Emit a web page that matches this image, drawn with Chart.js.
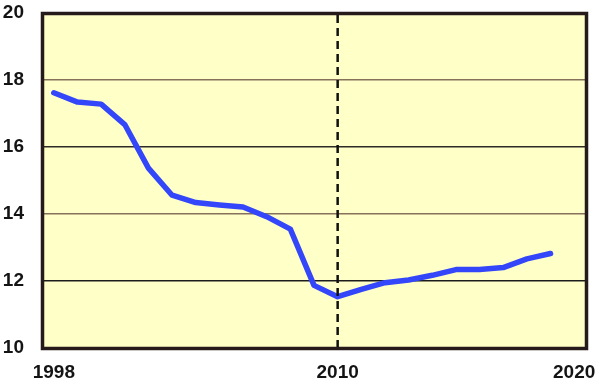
<!DOCTYPE html>
<html>
<head>
<meta charset="utf-8">
<script src="https://cdn.jsdelivr.net/npm/chart.js@4/dist/chart.umd.min.js"></script>
<style>
html,body{margin:0;padding:0;background:#fff;}
canvas{display:block;}
</style>
</head>
<body>
<canvas id="c" width="600" height="382"></canvas>
<script>
const years = [1998,1999,2000,2001,2002,2003,2004,2005,2006,2007,2008,2009,2010,2011,2012,2013,2014,2015,2016,2017,2018,2019];
const values = [17.62,17.34,17.28,16.67,15.37,14.56,14.34,14.27,14.21,13.92,13.55,11.87,11.53,11.75,11.95,12.03,12.17,12.34,12.34,12.40,12.66,12.82];
const xTickLabels = [1998, 2010, 2020];
const yTicks = [10, 12, 14, 16, 18, 20];
const markerYear = [2010];

const gridColors = {18:'#86715a', 16:'#2e2a26', 14:'#86715a', 12:'#1c1c1c'};

const framePlugin = {
  id: 'frame',
  beforeDraw(chart) {
    const {ctx, chartArea:a} = chart;
    ctx.save();
    ctx.fillStyle = '#FFFFC8';
    ctx.fillRect(a.left, a.top, a.right - a.left, a.bottom - a.top);
    ctx.restore();
  },
  afterDraw(chart) {
    const {ctx, chartArea:a} = chart;
    ctx.save();
    ctx.strokeStyle = '#261a1a';
    ctx.lineWidth = 3.5;
    ctx.strokeRect(a.left + 0.5, a.top + 0.5, a.right - a.left, a.bottom - a.top);
    ctx.restore();
  }
};

new Chart(document.getElementById('c'), {
  type: 'line',
  data: {
    datasets: [
      {
        data: markerYear.flatMap(y => [{x:y, y:yTicks[0]}, {x:y, y:yTicks[yTicks.length-1]}]),
        borderColor: '#111111',
        borderWidth: 2.5,
        borderDash: [8, 5],
        pointRadius: 0,
        order: 0
      },
      {
        data: years.map((y, i) => ({x: y, y: values[i]})),
        borderColor: '#3446FA',
        borderWidth: 5.5,
        pointRadius: 0,
        tension: 0,
        borderJoinStyle: 'round',
        borderCapStyle: 'round',
        order: 1
      }
    ]
  },
  options: {
    responsive: false,
    animation: false,
    layout: { padding: { left: 0, top: 13, right: 14, bottom: 0 } },
    plugins: { legend: { display: false }, tooltip: { enabled: false } },
    scales: {
      x: {
        type: 'linear',
        min: 1997.5,
        max: 2020.5,
        afterBuildTicks(scale) { scale.ticks = xTickLabels.map(v => ({value: v})); },
        afterFit(scale) { scale.height = 34; scale.paddingLeft = 0; scale.paddingRight = 0; },
        grid: { display: false, drawTicks: false },
        border: { display: false },
        ticks: {
          padding: 13,
          color: '#141414',
          font: { family: 'Liberation Sans, Arial, sans-serif', size: 19, weight: 'bold' },
          callback: v => String(v),
          maxRotation: 0,
          autoSkip: false
        }
      },
      y: {
        min: 10,
        max: 20,
        afterBuildTicks(scale) { scale.ticks = yTicks.map(v => ({value: v})); },
        afterFit(scale) { scale.width = 42; scale.paddingTop = 0; scale.paddingBottom = 0; },
        grid: {
          drawTicks: false,
          lineWidth: 1.5,
          color: ctx => gridColors[ctx.tick && ctx.tick.value] || 'rgba(0,0,0,0)'
        },
        border: { display: false },
        ticks: {
          padding: 18,
          color: '#141414',
          font: { family: 'Liberation Sans, Arial, sans-serif', size: 19, weight: 'bold' }
        }
      }
    }
  },
  plugins: [framePlugin]
});
</script>
</body>
</html>
